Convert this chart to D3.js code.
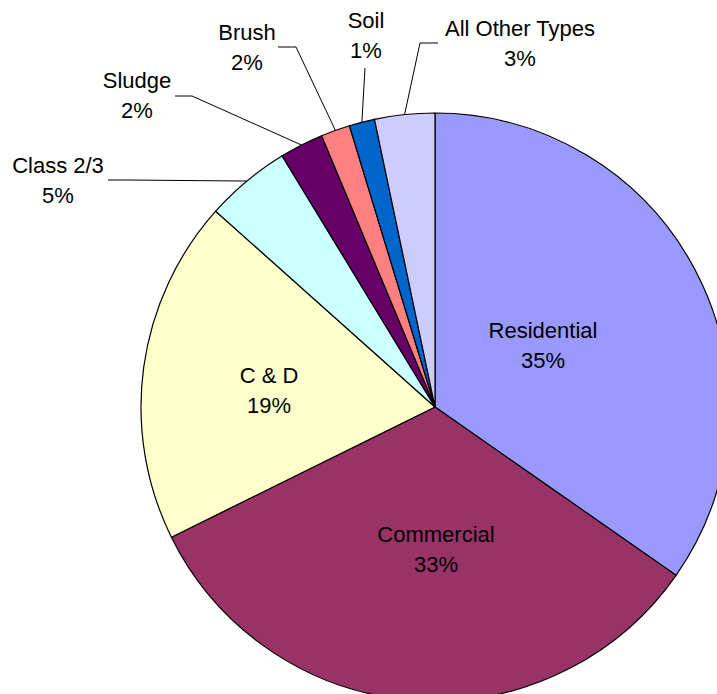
<!DOCTYPE html>
<html>
<head>
<meta charset="utf-8">
<script src="https://cdn.jsdelivr.net/npm/d3@7"></script>
<style>
  body { margin: 0; background: #fff; }
  text { font-family: "Liberation Sans", Arial, sans-serif; font-size: 22px; fill: #000; }
</style>
</head>
<body>
<div class="chart"></div>
<script>
// waste types, clockwise from 12 o'clock
var categories = ["Residential", "Commercial", "C & D", "Class 2/3", "Sludge", "Brush", "Soil", "All Other Types"];
var shares = [34.7, 33.0, 18.9, 4.7, 2.4, 1.6, 1.4, 3.3];
var colors = ["#9999FF", "#993366", "#FFFFCC", "#CCFFFF", "#660066", "#FF8080", "#0066CC", "#CCCCFF"];

var width = 717, height = 694;
var cx = 435, cy = 407, radius = 294;

// label placement (centre x, baseline of first line) and leader elbow / tick end
var labelLayout = {
  "Residential":     {x: 543, y: 338},
  "Commercial":      {x: 436, y: 542},
  "C & D":           {x: 269, y: 383},
  "Class 2/3":       {x: 58,  y: 173, elbow: [128, 180], tick: [108, 180]},
  "Sludge":          {x: 137, y: 88,  elbow: [192, 96],  tick: [175, 96]},
  "Brush":           {x: 247, y: 40,  elbow: [296, 47],  tick: [278, 47]},
  "Soil":            {x: 366, y: 28,  elbow: [365, 68],  tick: [365, 68]},
  "All Other Types": {x: 520, y: 36,  elbow: [420, 43],  tick: [438, 43]}
};

var svg = d3.select(".chart").append("svg")
    .attr("width", width)
    .attr("height", height);

var data = categories.map(function(c, i) { return {name: c, value: shares[i], color: colors[i]}; });

var pie = d3.pie()
    .sort(null)
    .value(function(d) { return d.value; });

var arc = d3.arc()
    .innerRadius(0)
    .outerRadius(radius);

var arcs = pie(data);

var g = svg.append("g")
    .attr("transform", "translate(" + cx + "," + cy + ")");

g.selectAll("path.slice")
    .data(arcs)
    .enter().append("path")
      .attr("class", "slice")
      .attr("d", arc)
      .attr("fill", function(d) { return d.data.color; })
      .attr("stroke", "#000")
      .attr("stroke-width", 1.2);

/************* leader lines for the small slices ***************/
var line = d3.line();
svg.selectAll("path.leader")
    .data(arcs.filter(function(d) { return labelLayout[d.data.name].elbow; }))
    .enter().append("path")
      .attr("class", "leader")
      .attr("fill", "none")
      .attr("stroke", "#000")
      .attr("stroke-width", 1)
      .attr("d", function(d) {
          var a = (d.startAngle + d.endAngle) / 2;
          var rim = [cx + radius * Math.sin(a), cy - radius * Math.cos(a)];
          var L = labelLayout[d.data.name];
          return line([rim, L.elbow, L.tick]);
      });

/************* labels ***************/
var labels = svg.selectAll("text.label")
    .data(arcs)
    .enter().append("text")
      .attr("class", "label")
      .attr("text-anchor", "middle")
      .attr("x", function(d) { return labelLayout[d.data.name].x; })
      .attr("y", function(d) { return labelLayout[d.data.name].y; });

labels.append("tspan")
    .attr("x", function(d) { return labelLayout[d.data.name].x; })
    .text(function(d) { return d.data.name; });

labels.append("tspan")
    .attr("x", function(d) { return labelLayout[d.data.name].x; })
    .attr("dy", 30)
    .text(function(d) { return Math.round(d.data.value) + "%"; });
</script>
</body>
</html>
